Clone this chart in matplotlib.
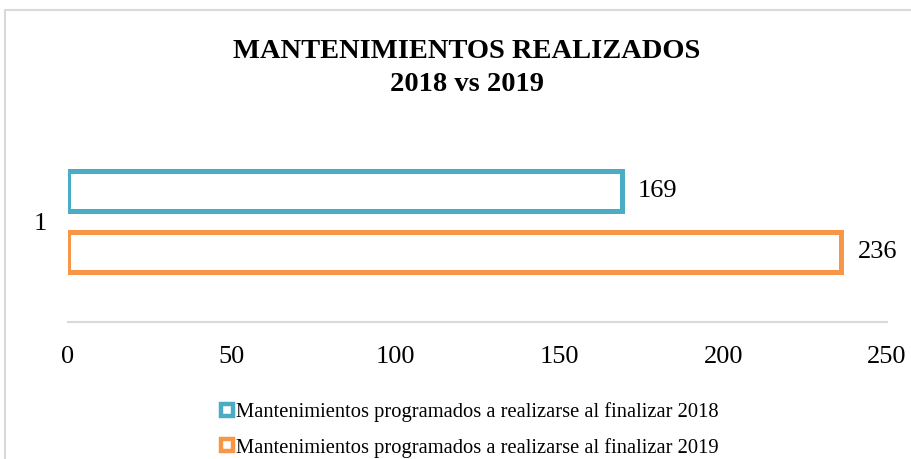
import matplotlib
matplotlib.use("Agg")
import matplotlib.pyplot as plt
from matplotlib.lines import Line2D
from matplotlib.patches import Rectangle

title = "MANTENIMIENTOS REALIZADOS\n2018 vs 2019"
series_labels = ["Mantenimientos programados a realizarse al finalizar 2018",
                 "Mantenimientos programados a realizarse al finalizar 2019"]
values = [169, 236]
colors = ["#4BACC6", "#F79646"]
category = "1"
xticks = [0, 50, 100, 150, 200, 250]

plt.rcParams['font.family'] = ['Liberation Serif', 'DejaVu Serif']

W, H = 911, 459
fig = plt.figure(figsize=(W / 100, H / 100), dpi=100)
fig.patch.set_facecolor("white")

# outer chart border (extends beyond right/bottom edges)
fig.add_artist(Rectangle((5 / W, -0.2), 1.2, 1.2 - 10 / H, transform=fig.transFigure,
                         fill=False, edgecolor="#d9d9d9", linewidth=1.5))

ax = fig.add_axes([68 / W, 1 - 322 / H, (887 - 68) / W, (322 - 121) / H])
offsets = [0.15, -0.15]
bh = 0.2
for v, c, off, lab in zip(values, colors, offsets, series_labels):
    ax.barh(1 + off, v, height=bh, facecolor="white", edgecolor=c, linewidth=3.6, label=lab)
    ax.text(v + 5, 1 + off, str(v), va="center", ha="left", fontsize=19)

ax.set_xlim(0, 250)
ax.set_ylim(0.5, 1.5)
ax.set_xticks(xticks)
ax.set_xticklabels([str(t) for t in xticks], fontsize=19)
ax.set_yticks([1])
ax.set_yticklabels([category], fontsize=19)
ax.tick_params(length=0)
ax.tick_params(axis="x", pad=17)
ax.tick_params(axis="y", pad=15)
for s in ["top", "right", "left"]:
    ax.spines[s].set_visible(False)
ax.spines["bottom"].set_color("#d9d9d9")
ax.spines["bottom"].set_linewidth(1.5)

fig.text(467 / W, 1 - 68 / H, title, ha="center", va="center", fontsize=20.5,
         fontweight="bold", linespacing=1.45)

handles = [Line2D([], [], marker="s", linestyle="none", markersize=9,
                  markerfacecolor="white", markeredgecolor=c, markeredgewidth=3.2)
           for c in colors]
fig.legend(handles, series_labels, loc="center", bbox_to_anchor=(469 / W, 1 - 430 / H),
           frameon=False, fontsize=14.8, ncol=1, handlelength=0.7, handletextpad=0.1,
           labelspacing=0.75, borderpad=0)

fig.savefig("out.png", dpi=100)
